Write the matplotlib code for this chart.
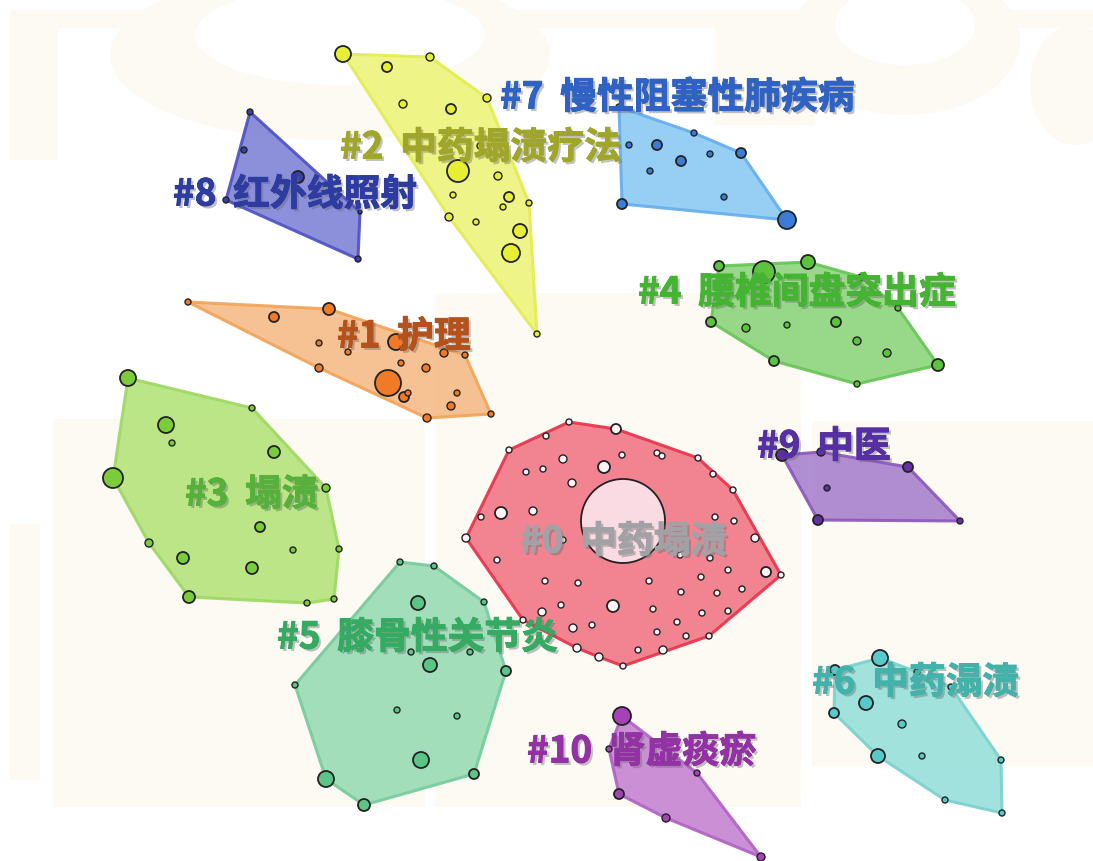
import matplotlib
matplotlib.use('Agg')
import matplotlib.pyplot as plt
from matplotlib.patches import Circle, Polygon, Rectangle, Ellipse
import matplotlib.patheffects as pe

# ---------------- data (pixel-space layout coordinates of nodes) ----------------
c0_x = [569, 616, 546, 509, 622, 657, 662, 698, 563, 604, 526, 543, 713, 572, 733, 501, 533, 481, 715, 734,
        466, 755, 623, 497, 710, 563, 766, 781, 728, 545, 578, 649, 701, 681, 717, 742, 613, 542, 561, 653,
        702, 728, 523, 592, 573, 677, 657, 686, 709, 577, 638, 663, 599, 623, 680]
c0_y = [422, 429, 436, 450, 455, 453, 456, 458, 459, 467, 472, 469, 474, 483, 490, 513, 511, 517, 517, 521,
        538, 538, 521, 560, 558, 540, 572, 575, 570, 581, 583, 581, 577, 592, 593, 589, 606, 612, 605, 609,
        613, 611, 620, 625, 628, 622, 632, 636, 636, 648, 650, 650, 657, 666, 555]
c0_r = [3, 5, 3, 3, 3, 3, 3, 3, 4, 6, 3, 3, 3, 4, 3, 6, 4, 3, 3, 3,
        4, 4, 42, 3, 3, 3, 5, 3, 3, 3, 3, 3, 3, 3, 3, 3, 6, 4, 3, 3,
        3, 3, 3, 3, 4, 3, 3, 3, 3, 4, 3, 4, 4, 3, 3]

c1_x = [188, 274, 329, 319, 348, 396, 444, 465, 319, 388, 401, 426, 404, 408, 457, 451, 427, 491]
c1_y = [302, 317, 309, 343, 352, 342, 353, 355, 368, 383, 363, 368, 397, 393, 393, 406, 418, 414]
c1_r = [3, 5, 6, 3, 3, 8, 4, 3, 4, 13, 3, 4, 5, 3, 3, 4, 4, 3]

c2_x = [343, 387, 430, 403, 451, 487, 480, 458, 498, 453, 509, 503, 529, 449, 476, 520, 511, 537]
c2_y = [54, 67, 57, 104, 109, 98, 146, 171, 176, 195, 197, 207, 203, 217, 222, 231, 253, 334]
c2_r = [8, 5, 4, 4, 5, 4, 3, 11, 4, 3, 5, 3, 3, 4, 3, 7, 9, 3]

c3_x = [128, 252, 166, 172, 274, 113, 326, 260, 149, 293, 339, 183, 252, 189, 307, 334]
c3_y = [378, 408, 425, 443, 452, 478, 488, 527, 543, 550, 549, 558, 568, 597, 603, 599]
c3_r = [8, 3, 8, 3, 6, 10, 4, 5, 4, 3, 3, 6, 6, 6, 3, 3]

c4_x = [719, 764, 808, 861, 898, 711, 746, 787, 836, 857, 887, 774, 938, 857]
c4_y = [266, 272, 262, 277, 308, 322, 328, 325, 322, 341, 353, 361, 365, 384]
c4_r = [5, 11, 7, 3, 3, 5, 4, 3, 5, 4, 4, 5, 6, 3]

c5_x = [400, 434, 418, 484, 411, 470, 430, 506, 295, 397, 457, 421, 326, 474, 364]
c5_y = [562, 566, 603, 602, 652, 652, 665, 671, 685, 710, 716, 760, 779, 774, 805]
c5_r = [3, 3, 7, 3, 3, 3, 7, 5, 3, 3, 3, 8, 8, 5, 6]

c6_x = [880, 835, 917, 951, 866, 834, 902, 878, 922, 1001, 945, 1002]
c6_y = [658, 670, 672, 687, 703, 713, 724, 756, 756, 760, 800, 813]
c6_r = [8, 5, 3, 3, 7, 5, 4, 7, 3, 3, 3, 3]

c7_x = [619, 629, 657, 694, 710, 681, 741, 650, 724, 622, 787]
c7_y = [107, 145, 145, 133, 154, 161, 153, 171, 197, 204, 220]
c7_r = [3, 3, 5, 3, 3, 5, 5, 3, 3, 5, 9]

c8_x = [250, 244, 298, 226, 360, 358]
c8_y = [112, 150, 177, 200, 212, 259]
c8_r = [3, 3, 6, 3, 2, 3]

c9_x = [782, 821, 908, 827, 818, 960]
c9_y = [455, 452, 467, 488, 520, 521]
c9_r = [6, 4, 5, 3, 5, 3]

c10_x = [622, 609, 697, 619, 666, 761]
c10_y = [716, 749, 773, 794, 818, 857]
c10_r = [9, 3, 3, 5, 4, 4]

labels = ['#0  中药塌渍', '#1  护理', '#2  中药塌渍疗法', '#3  塌渍', '#4  腰椎间盘突出症', '#5  膝骨性关节炎',
          '#6  中药溻渍', '#7  慢性阻塞性肺疾病', '#8  红外线照射', '#9  中医', '#10  肾虚痰瘀']
label_x = [520, 337, 340, 185, 638, 277, 812, 500, 173, 757, 527]
label_y = [542, 337, 148, 495, 293, 638, 683, 98, 195, 447, 752]

# ---------------- styles ----------------
hull_fill = ['#f27a8a', '#f6bd8a', '#eef47e', '#b6e47e', '#8ed67e', '#9adcb6', '#9ae0dc', '#8ecaf2',
             '#8286d6', '#aa84ce', '#c686d2']
hull_edge = ['#e8334c', '#f2a458', '#e2ee52', '#9ed864', '#66c656', '#76cc9e', '#7ad2ce', '#66aeee',
             '#4e52c4', '#8c58bc', '#b262c6']
node_col = ['#fdf2f5', '#f07a26', '#e6ef34', '#7acc38', '#5cc43c', '#5cc486', '#56caca', '#3c7cd6',
            '#3840aa', '#6232a2', '#a442b6']
label_col = ['#a2a2a6', '#b4521e', '#a0a62a', '#56b03c', '#44b432', '#34aa62', '#42b2aa', '#2f62c2',
             '#2e3ca2', '#5630a2', '#9232a4']

clusters = [(c0_x, c0_y, c0_r), (c1_x, c1_y, c1_r), (c2_x, c2_y, c2_r), (c3_x, c3_y, c3_r),
            (c4_x, c4_y, c4_r), (c5_x, c5_y, c5_r), (c6_x, c6_y, c6_r), (c7_x, c7_y, c7_r),
            (c8_x, c8_y, c8_r), (c9_x, c9_y, c9_r), (c10_x, c10_y, c10_r)]


def convex_hull(pts):
    pts = sorted(set(pts))
    if len(pts) <= 2:
        return pts

    def cross(o, a, b):
        return (a[0] - o[0]) * (b[1] - o[1]) - (a[1] - o[1]) * (b[0] - o[0])
    lower, upper = [], []
    for p in pts:
        while len(lower) >= 2 and cross(lower[-2], lower[-1], p) <= 0:
            lower.pop()
        lower.append(p)
    for p in reversed(pts):
        while len(upper) >= 2 and cross(upper[-2], upper[-1], p) <= 0:
            upper.pop()
        upper.append(p)
    return lower[:-1] + upper[:-1]


W, H = 1093, 861
fig = plt.figure(figsize=(W / 100, H / 100), dpi=100)
ax = fig.add_axes([0, 0, 1, 1])
ax.set_xlim(0, W)
ax.set_ylim(H, 0)
ax.axis('off')
fig.patch.set_facecolor('white')

# faint watermark-like background shapes
bg = '#fcfaf3'
for (x0, y0, w, h) in [(53, 419, 372, 388), (435, 293, 366, 514), (812, 421, 281, 345), (10, 524, 30, 256),
                       (10, 10, 1083, 18), (10, 10, 48, 150), (715, 10, 100, 115)]:
    ax.add_patch(Rectangle((x0, y0), w, h, facecolor=bg, edgecolor='none', zorder=0))
ax.add_patch(Ellipse((330, 55), 440, 170, facecolor=bg, edgecolor='none', zorder=0))
ax.add_patch(Ellipse((340, 35), 290, 100, facecolor='white', edgecolor='none', zorder=0))
ax.add_patch(Ellipse((1075, 85), 90, 120, facecolor=bg, edgecolor='none', zorder=0))
ax.add_patch(Ellipse((905, 40), 230, 150, facecolor=bg, edgecolor='none', zorder=0))
ax.add_patch(Ellipse((905, 25), 140, 80, facecolor='white', edgecolor='none', zorder=0))

for i, (xs, ys, rs) in enumerate(clusters):
    hull = convex_hull(list(zip(xs, ys)))
    ax.add_patch(Polygon(hull, closed=True, facecolor=hull_fill[i], edgecolor=hull_edge[i],
                         linewidth=2.2, joinstyle='round', alpha=0.92, zorder=2))
    for x, y, r in zip(xs, ys, rs):
        fc = node_col[i]
        if i == 0 and r > 20:
            fc = '#fadbe3'
        ax.add_patch(Circle((x, y), r, facecolor=fc, edgecolor='#222222',
                            linewidth=1.3 if r > 4 else 1.0, zorder=3))

for t, x, y, c in zip(labels, label_x, label_y, label_col):
    ax.text(x, y, t, color=c, fontsize=26.5, fontweight='bold', ha='left', va='center',
            family=['Noto Sans CJK SC', 'DejaVu Sans'], zorder=5,
            path_effects=[pe.withSimplePatchShadow(offset=(1.8, -1.8), shadow_rgbFace='#666666', alpha=0.4),
                          pe.withStroke(linewidth=0.7, foreground=c)])

fig.savefig('out.png', dpi=100, facecolor='white')
